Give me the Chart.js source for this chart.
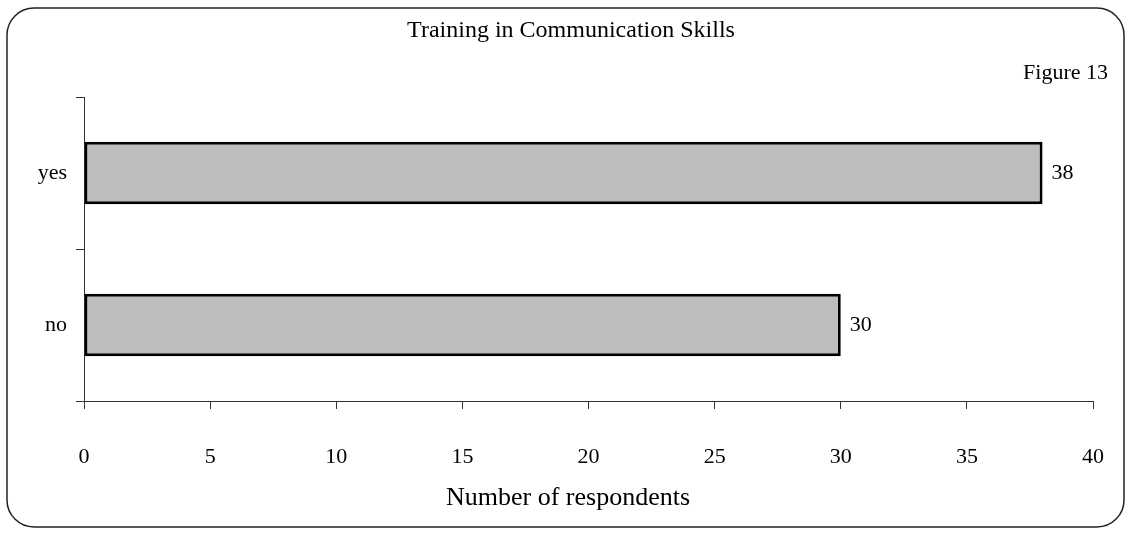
<!DOCTYPE html>
<html>
<head>
<meta charset="utf-8">
<script src="https://cdn.jsdelivr.net/npm/chart.js@4"></script>
<style>
  html, body { margin: 0; padding: 0; background: #fff; }
  #wrap { width: 1127px; height: 533px; }
</style>
</head>
<body>
<div id="wrap"><canvas id="chart"></canvas></div>
<script>
const categories = ['yes', 'no'];
const respondents = [38, 30];
const xTicks = [0, 5, 10, 15, 20, 25, 30, 35, 40];

const chartTitle = 'Training in Communication Skills';
const xTitle = 'Number of respondents';
const figureNote = 'Figure 13';

const serif = '"Liberation Serif", "Times New Roman", serif';

// rounded frame, titles and the "Figure 13" note (the scanned figure puts
// its titles a little left of the plot centre, so they are drawn here)
const framePlugin = {
  id: 'frame',
  beforeDraw(chart) {
    const { ctx } = chart;
    ctx.save();
    ctx.strokeStyle = '#222';
    ctx.lineWidth = 1.5;
    ctx.beginPath();
    ctx.roundRect(7, 8, 1117, 519, 27);
    ctx.stroke();
    ctx.restore();
  },
  afterDraw(chart) {
    const { ctx } = chart;
    ctx.save();
    ctx.fillStyle = '#000';
    ctx.textBaseline = 'middle';
    ctx.font = `24px ${serif}`;
    ctx.textAlign = 'center';
    ctx.fillText(chartTitle, 571, 31);
    ctx.font = `26px ${serif}`;
    ctx.fillText(xTitle, 568, 498);
    ctx.font = `22px ${serif}`;
    ctx.textAlign = 'right';
    ctx.fillText(figureNote, 1108, 73);
    ctx.restore();
  }
};

// value next to the end of each bar
const valueLabels = {
  id: 'valueLabels',
  afterDatasetsDraw(chart) {
    const { ctx } = chart;
    const meta = chart.getDatasetMeta(0);
    ctx.save();
    ctx.font = `22px ${serif}`;
    ctx.fillStyle = '#000';
    ctx.textAlign = 'left';
    ctx.textBaseline = 'middle';
    meta.data.forEach((bar, i) => {
      ctx.fillText(String(respondents[i]), bar.x + 9, bar.y);
    });
    ctx.restore();
  }
};

new Chart(document.getElementById('chart'), {
  type: 'bar',
  data: {
    labels: categories,
    datasets: [{
      data: respondents,
      backgroundColor: '#bdbdbd',
      borderColor: '#000',
      borderWidth: 3,
      borderSkipped: false,
      categoryPercentage: 0.41,
      barPercentage: 1
    }]
  },
  options: {
    indexAxis: 'y',
    responsive: true,
    maintainAspectRatio: false,
    animation: false,
    layout: { padding: { left: 0, right: 34, top: 97, bottom: 0 } },
    plugins: {
      legend: { display: false },
      tooltip: { enabled: false },
      title: { display: false }
    },
    scales: {
      x: {
        min: 0,
        max: 40,
        afterBuildTicks: s => { s.ticks = xTicks.map(v => ({ value: v })); },
        // big tick padding pushes the labels down, but should not eat the right edge
        afterFit: s => { s.height = 132; s.paddingRight = 0; },
        border: { display: true, color: '#333', width: 1 },
        grid: { drawOnChartArea: false, drawTicks: true, tickLength: 8, color: '#333' },
        ticks: { color: '#000', padding: 35, font: { family: serif, size: 22 } }
      },
      y: {
        afterFit: s => { s.width = 84; },
        border: { display: true, color: '#333', width: 1 },
        grid: { offset: true, drawOnChartArea: false, drawTicks: true, tickLength: 8, color: '#333' },
        ticks: { color: '#000', padding: 9, font: { family: serif, size: 22 } }
      }
    }
  },
  plugins: [framePlugin, valueLabels]
});
</script>
</body>
</html>
